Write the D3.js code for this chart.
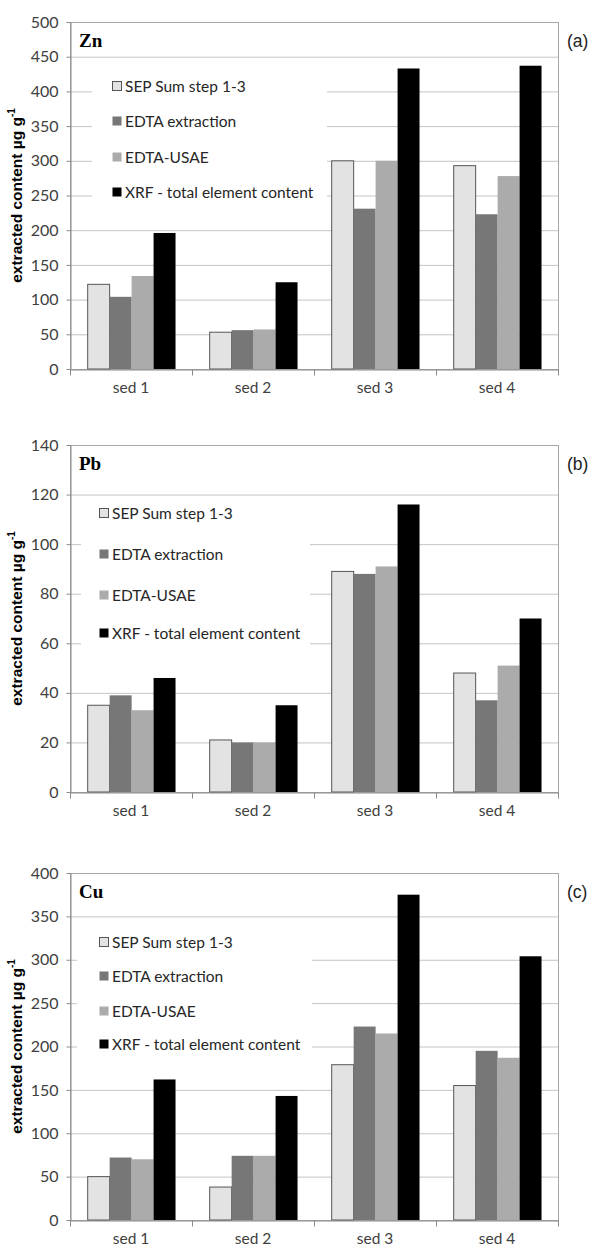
<!DOCTYPE html>
<html>
<head>
<meta charset="utf-8">
<script src="https://cdn.jsdelivr.net/npm/d3@7"></script>
<style>
  body { margin: 0; background: #fff; }
</style>
</head>
<body>
<script>
// categories and series
const categories = ['sed 1', 'sed 2', 'sed 3', 'sed 4'];
const seriesNames = ['SEP Sum step 1-3', 'EDTA extraction', 'EDTA-USAE', 'XRF - total element content'];

// Zn (a)
const znSep  = [122, 53, 300, 293];
const znEdta = [104, 56, 231, 223];
const znUsae = [134, 57, 300, 278];
const znXrf  = [196, 125, 433, 437];
const znTicks = [0, 50, 100, 150, 200, 250, 300, 350, 400, 450, 500];

// Pb (b)
const pbSep  = [35, 21, 89, 48];
const pbEdta = [39, 20, 88, 37];
const pbUsae = [33, 20, 91, 51];
const pbXrf  = [46, 35, 116, 70];
const pbTicks = [0, 20, 40, 60, 80, 100, 120, 140];

// Cu (c)
const cuSep  = [50, 38, 179, 155];
const cuEdta = [72, 74, 223, 195];
const cuUsae = [70, 74, 215, 187];
const cuXrf  = [162, 143, 375, 304];
const cuTicks = [0, 50, 100, 150, 200, 250, 300, 350, 400];

const [W, H] = [598, 1249];
const LEFT = 70, RIGHT = 558, PH = 347;
const CAL = 'Lato, "Liberation Sans", Arial, sans-serif';

const color = d3.scaleOrdinal()
    .domain(seriesNames)
    .range(['#e3e3e3', '#777777', '#ababab', '#000000']);

const panels = [
    { name: 'Zn', tag: '(a)', top: 22, ticks: znTicks, values: [znSep, znEdta, znUsae, znXrf],
      legend: { x: 92, w: 235, y: 40, h: 152, sq: 112, rows: [64, 99, 135, 170] } },
    { name: 'Pb', tag: '(b)', top: 445, ticks: pbTicks, values: [pbSep, pbEdta, pbUsae, pbXrf],
      legend: { x: 81, w: 229, y: 52, h: 152, sq: 99, rows: [68, 109, 150, 188] } },
    { name: 'Cu', tag: '(c)', top: 873, ticks: cuTicks, values: [cuSep, cuEdta, cuUsae, cuXrf],
      legend: { x: 77, w: 235, y: 50, h: 140, sq: 99, rows: [69, 103, 138, 171] } }
];

const svg = d3.select('body').append('svg')
    .attr('width', W).attr('height', H);

function drawPanel(p) {
    const g = svg.append('g');
    const bottom = p.top + PH;

    const x = d3.scaleBand().domain(categories).range([LEFT, RIGHT]);
    const xs = d3.scaleBand().domain(seriesNames)
        .range([x.bandwidth() * 0.145, x.bandwidth() * 0.865]);
    const y = d3.scaleLinear().domain([0, d3.max(p.ticks)]).range([bottom, p.top]);

    // gridlines
    g.append('g').selectAll('line')
        .data(p.ticks.slice(1)).join('line')
        .attr('x1', LEFT).attr('x2', RIGHT)
        .attr('y1', d => y(d) + 0.5).attr('y2', d => y(d) + 0.5)
        .attr('stroke', '#c4c4c4');

    // plot border
    g.append('rect')
        .attr('x', LEFT + 0.5).attr('y', p.top + 0.5)
        .attr('width', RIGHT - LEFT).attr('height', PH)
        .attr('fill', 'none').attr('stroke', '#a8a8a8');

    // legend (white box hides gridlines behind it)
    const lg = g.append('g');
    lg.append('rect')
        .attr('x', p.legend.x).attr('y', p.top + p.legend.y)
        .attr('width', p.legend.w).attr('height', p.legend.h)
        .attr('fill', '#fff');
    const item = lg.selectAll('g.item')
        .data(seriesNames).join('g')
        .attr('class', 'item')
        .attr('transform', (d, i) => 'translate(' + p.legend.sq + ',' + (p.top + p.legend.rows[i]) + ')');
    item.append('rect')
        .attr('x', 0.5).attr('y', -4.5)
        .attr('width', 9).attr('height', 9)
        .attr('fill', color)
        .attr('stroke', d => d === seriesNames[0] ? '#555' : 'none');
    item.append('text')
        .attr('x', 13).attr('dy', '0.36em')
        .style('font-family', CAL).style('font-size', '15.5px')
        .attr('fill', '#262626')
        .text(d => d);

    // bars
    const rows = categories.map((c, ci) => seriesNames.map((s, si) => ({ cat: c, key: s, value: p.values[si][ci] })));
    g.append('g').selectAll('g')
        .data(rows).join('g')
        .attr('transform', d => 'translate(' + x(d[0].cat) + ',0)')
        .selectAll('rect')
        .data(d => d).join('rect')
        .attr('x', d => xs(d.key))
        .attr('y', d => y(d.value))
        .attr('width', xs.bandwidth())
        .attr('height', d => bottom - y(d.value))
        .attr('fill', d => color(d.key))
        .attr('stroke', d => d.key === seriesNames[0] ? '#555' : 'none')
        .attr('stroke-width', 1);

    // y axis
    const yAxis = d3.axisLeft(y).tickValues(p.ticks).tickSize(4).tickSizeOuter(0).tickPadding(8);
    const ya = g.append('g')
        .attr('transform', 'translate(' + (LEFT + 0.5) + ',0)')
        .call(yAxis);
    ya.select('.domain').attr('stroke', '#8a8a8a');
    ya.selectAll('.tick line').attr('stroke', '#8a8a8a');
    ya.selectAll('.tick text')
        .style('font-family', CAL).style('font-size', '16px').attr('fill', '#404040');

    // x axis: labels centred in bands, ticks on band edges
    const xAxis = d3.axisBottom(x).tickSize(0).tickSizeOuter(0).tickPadding(12);
    const xa = g.append('g')
        .attr('transform', 'translate(0,' + (bottom + 0.5) + ')')
        .call(xAxis);
    xa.select('.domain').attr('stroke', '#8a8a8a');
    xa.selectAll('.tick text')
        .style('font-family', CAL).style('font-size', '15.5px').attr('fill', '#404040');
    xa.selectAll('line.edge')
        .data(categories.map(c => x(c)).concat([x.range()[1]])).join('line')
        .attr('class', 'edge')
        .attr('x1', d => d + 0.5).attr('x2', d => d + 0.5)
        .attr('y1', 0).attr('y2', 6)
        .attr('stroke', '#8a8a8a');

    // y axis title
    const yt = g.append('text')
        .attr('transform', 'translate(22,' + (p.top + PH / 2) + ') rotate(-90)')
        .attr('text-anchor', 'middle')
        .style('font-family', '"Liberation Sans", Arial, sans-serif')
        .style('font-size', '15.5px').style('font-weight', 'bold')
        .attr('fill', '#000');
    yt.append('tspan').text('extracted content \u00b5g g');
    yt.append('tspan').attr('dy', -7).style('font-size', '10px').text('-1');

    // element name
    g.append('text')
        .attr('x', 79).attr('y', p.top + 25)
        .style('font-family', '"Liberation Serif", "Times New Roman", serif')
        .style('font-size', '19px').style('font-weight', 'bold')
        .text(p.name);

    // panel tag
    g.append('text')
        .attr('x', 567).attr('y', p.top + 25)
        .style('font-family', '"Liberation Sans", Arial, sans-serif')
        .style('font-size', '17.5px')
        .attr('fill', '#222')
        .text(p.tag);
}

panels.forEach(drawPanel);
</script>
</body>
</html>
